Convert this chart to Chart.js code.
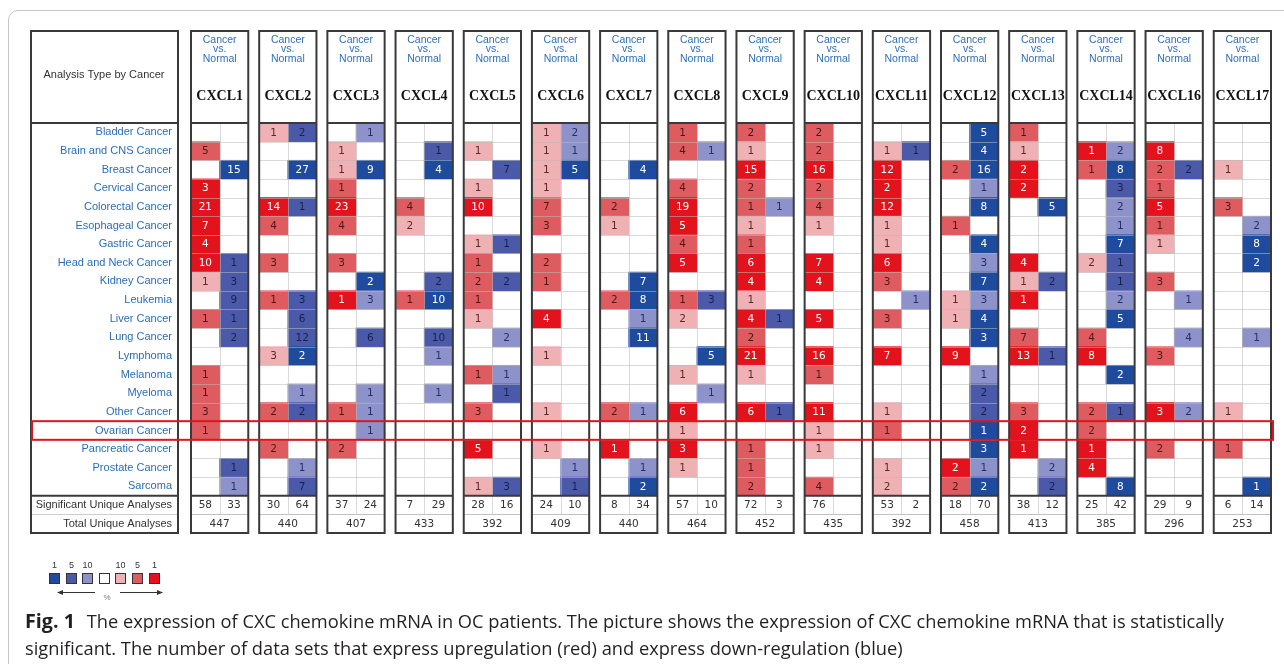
<!DOCTYPE html>
<html>
<head>
<meta charset="utf-8">
<title>CXC chemokine mRNA expression</title>
<script src="https://cdn.jsdelivr.net/npm/chart.js@4.4.1/dist/chart.umd.min.js"></script>
<style>
  html, body { margin: 0; padding: 0; width: 1284px; height: 664px; overflow: hidden; background: #fff; }
  #frame { position: absolute; left: 8px; top: 10px; width: 1330px; height: 700px; border: 1px solid #c6c6c6; border-radius: 10px; }
  #chart { position: absolute; left: 0; top: 0; }
  #caption { position: absolute; left: 25px; top: 607px; font-family: 'Open Sans', 'Liberation Sans', sans-serif;
             font-size: 16.5px; line-height: 27px; color: #231f20; white-space: nowrap; }
  #caption b { font-weight: 700; font-size: 1.08em; margin-right: 0.6em; }
</style>
</head>
<body>
<div id="frame"></div>
<canvas id="chart" width="1284" height="664"></canvas>
<div id="caption"><span id="line1"><b>Fig. 1</b>The expression of CXC chemokine mRNA in OC patients. The picture shows the expression of CXC chemokine mRNA that is statistically</span><br><span id="line2">significant. The number of data sets that express upregulation (red) and express down-regulation (blue)</span></div>

<script>
// Genes (columns) and cancer types (rows)
const genes = ['CXCL1', 'CXCL2', 'CXCL3', 'CXCL4', 'CXCL5', 'CXCL6', 'CXCL7', 'CXCL8',
               'CXCL9', 'CXCL10', 'CXCL11', 'CXCL12', 'CXCL13', 'CXCL14', 'CXCL16', 'CXCL17'];
const cancers = ['Bladder Cancer', 'Brain and CNS Cancer', 'Breast Cancer', 'Cervical Cancer',
                 'Colorectal Cancer', 'Esophageal Cancer', 'Gastric Cancer', 'Head and Neck Cancer',
                 'Kidney Cancer', 'Leukemia', 'Liver Cancer', 'Lung Cancer', 'Lymphoma', 'Melanoma',
                 'Myeloma', 'Other Cancer', 'Ovarian Cancer', 'Pancreatic Cancer', 'Prostate Cancer', 'Sarcoma'];
const footerLabels = ['Significant Unique Analyses', 'Total Unique Analyses'];
const highlightedCancer = 'Ovarian Cancer';

// Significant / total unique analyses per gene
const sigUp = [58, 30, 37, 7, 28, 24, 8, 57, 72, 76, 53, 18, 38, 25, 29, 6];
const sigDown = [33, 64, 24, 29, 16, 10, 34, 10, 3, null, 2, 70, 12, 42, 9, 14];
const totalAnalyses = [447, 440, 407, 433, 392, 409, 440, 464, 452, 435, 392, 458, 413, 385, 296, 253];

// Over-expression cells per gene: [cancer row, number of analyses, gene rank threshold %]
const upCells = [
  [[1,5,5],[3,3,1],[4,21,1],[5,7,1],[6,4,1],[7,10,1],[8,1,10],[10,1,5],[13,1,5],[14,1,5],[15,3,5],[16,1,5]],
  [[0,1,10],[4,14,1],[5,4,5],[7,3,5],[9,1,5],[12,3,10],[15,2,5],[17,2,5]],
  [[1,1,10],[2,1,10],[3,1,5],[4,23,1],[5,4,5],[7,3,5],[9,1,1],[15,1,5],[17,2,5]],
  [[4,4,5],[5,2,10],[9,1,5]],
  [[1,1,10],[3,1,10],[4,10,1],[6,1,10],[7,1,5],[8,2,5],[9,1,5],[10,1,10],[13,1,5],[15,3,5],[17,5,1],[19,1,10]],
  [[0,1,10],[1,1,10],[2,1,10],[3,1,10],[4,7,5],[5,3,5],[7,2,5],[8,1,5],[10,4,1],[12,1,10],[15,1,10],[17,1,10]],
  [[4,2,5],[5,1,10],[9,2,5],[15,2,5],[17,1,1]],
  [[0,1,5],[1,4,5],[3,4,5],[4,19,1],[5,5,1],[6,4,5],[7,5,1],[9,1,5],[10,2,10],[13,1,10],[15,6,1],[16,1,10],[17,3,1],[18,1,10]],
  [[0,2,5],[1,1,10],[2,15,1],[3,2,5],[4,1,5],[5,1,10],[6,1,5],[7,6,1],[8,4,1],[9,1,10],[10,4,1],[11,2,5],[12,21,1],[13,1,10],[15,6,1],[17,1,5],[18,1,5],[19,2,5]],
  [[0,2,5],[1,2,5],[2,16,1],[3,2,5],[4,4,5],[5,1,10],[7,7,1],[8,4,1],[10,5,1],[12,16,1],[13,1,5],[15,11,1],[16,1,10],[17,1,10],[19,4,5]],
  [[1,1,10],[2,12,1],[3,2,1],[4,12,1],[5,1,10],[6,1,10],[7,6,1],[8,3,5],[10,3,5],[12,7,1],[15,1,10],[16,1,5],[18,1,10],[19,2,10]],
  [[2,2,5],[5,1,5],[9,1,10],[10,1,10],[12,9,1],[18,2,1],[19,2,5]],
  [[0,1,5],[1,1,10],[2,2,1],[3,2,1],[7,4,1],[8,1,10],[9,1,1],[11,7,5],[12,13,1],[15,3,5],[16,2,1],[17,1,1]],
  [[1,1,1],[2,1,5],[7,2,10],[11,4,5],[12,8,1],[15,2,5],[16,2,5],[17,1,1],[18,4,1]],
  [[1,8,1],[2,2,5],[3,1,5],[4,5,1],[5,1,5],[6,1,10],[8,3,5],[12,3,5],[15,3,1],[17,2,5]],
  [[2,1,10],[4,3,5],[15,1,10],[17,1,5]]
];

// Under-expression cells per gene: [cancer row, number of analyses, gene rank threshold %]
const downCells = [
  [[2,15,1],[7,1,5],[8,3,5],[9,9,5],[10,1,5],[11,2,5],[18,1,5],[19,1,10]],
  [[0,2,5],[2,27,1],[4,1,5],[9,3,5],[10,6,5],[11,12,5],[12,2,1],[14,1,10],[15,2,5],[18,1,10],[19,7,5]],
  [[0,1,10],[2,9,1],[8,2,1],[9,3,10],[11,6,5],[14,1,10],[15,1,10],[16,1,10]],
  [[1,1,5],[2,4,1],[8,2,5],[9,10,1],[11,10,5],[12,1,10],[14,1,10]],
  [[2,7,5],[6,1,5],[8,2,5],[11,2,10],[13,1,10],[14,1,5],[19,3,5]],
  [[0,2,10],[1,1,10],[2,5,1],[18,1,10],[19,1,5]],
  [[2,4,1],[8,7,1],[9,8,1],[10,1,10],[11,11,1],[15,1,10],[18,1,10],[19,2,1]],
  [[1,1,10],[9,3,5],[12,5,1],[14,1,10]],
  [[4,1,10],[10,1,5],[15,1,5]],
  [],
  [[1,1,5],[9,1,10]],
  [[0,5,1],[1,4,1],[2,16,1],[3,1,10],[4,8,1],[6,4,1],[7,3,10],[8,7,1],[9,3,10],[10,4,1],[11,3,1],[13,1,10],[14,2,5],[15,2,5],[16,1,1],[17,3,1],[18,1,10],[19,2,1]],
  [[4,5,1],[8,2,5],[12,1,5],[18,2,10],[19,2,5]],
  [[1,2,10],[2,8,1],[3,3,5],[4,2,10],[5,1,10],[6,7,1],[7,1,5],[8,1,5],[9,2,10],[10,5,1],[13,2,1],[15,1,5],[19,8,1]],
  [[2,2,5],[9,1,10],[11,4,10],[15,2,10]],
  [[5,2,10],[6,8,1],[7,2,1],[11,1,10],[19,1,1]]
];

// Colour scale: top 1%, 5%, 10% gene rank
const rankColors = {
  up:   { 1: '#e3131d', 5: '#de5c60', 10: '#efb1b4' },
  down: { 1: '#1f4b9f', 5: '#4b5aa8', 10: '#8d93ca' }
};
const rankTextColors = {
  up:   { 1: '#ffffff', 5: '#4a1818', 10: '#5a2a2a' },
  down: { 1: '#ffffff', 5: '#17214f', 10: '#25306a' }
};

// Column geometry in x-scale units: one unit per gene, each gene box holds two cells
const BOX = 0.84;
const HALF = BOX / 2;
const rowLabels = cancers.concat(footerLabels);

function cellPoints(cells, side) {
  const points = [];
  cells.forEach((list, g) => {
    list.forEach(([row, count, rank]) => {
      const start = g + (side === 'up' ? 0 : HALF);
      points.push({ y: cancers[row], x: [start, start + HALF], count, rank, side });
    });
  });
  return points;
}

function line(ctx, x1, y1, x2, y2) {
  ctx.beginPath(); ctx.moveTo(x1, y1); ctx.lineTo(x2, y2); ctx.stroke();
}

const HEADER_H = 92;
const CELL_FONT = '10.5px "DejaVu Sans", sans-serif';

const tablePlugin = {
  id: 'oncomineTable',
  afterDatasetsDraw(chart) {
    const { ctx, chartArea: a, scales: { x, y } } = chart;
    const rowH = y.getPixelForValue(1) - y.getPixelForValue(0);
    const top = a.top;
    const dataBottom = top + cancers.length * rowH;
    const sigBottom = dataBottom + rowH;
    const headTop = top - HEADER_H;
    ctx.save();

    // light cell grid inside each gene box
    ctx.strokeStyle = 'rgba(185,185,185,0.55)';
    ctx.lineWidth = 1;
    genes.forEach((gene, g) => {
      const l = x.getPixelForValue(g), m = x.getPixelForValue(g + HALF), r = x.getPixelForValue(g + BOX);
      for (let k = 1; k < rowLabels.length; k++) {
        if (k === cancers.length) continue;
        const yy = Math.round(top + k * rowH) + 0.5;
        line(ctx, l, yy, r, yy);
      }
      line(ctx, Math.round(m) + 0.5, top, Math.round(m) + 0.5, sigBottom);
    });

    // counts inside the coloured cells
    ctx.font = CELL_FONT;
    ctx.textAlign = 'center';
    ctx.textBaseline = 'middle';
    chart.data.datasets.forEach((ds, di) => {
      const meta = chart.getDatasetMeta(di);
      meta.data.forEach((el, j) => {
        const p = ds.data[j];
        ctx.fillStyle = rankTextColors[p.side][p.rank];
        ctx.fillText(String(p.count), (el.x + el.base) / 2, el.y + 0.5);
      });
    });

    // label column box
    const labL = y.left, labR = y.right - 13;
    ctx.strokeStyle = 'rgba(185,185,185,0.7)';
    line(ctx, labL, Math.round(sigBottom) + 0.5, labR, Math.round(sigBottom) + 0.5);
    ctx.strokeStyle = '#3a3a3a';
    ctx.lineWidth = 2;
    ctx.strokeRect(labL + 1, headTop, labR - labL - 1, a.bottom - headTop);
    line(ctx, labL, top, labR, top);
    line(ctx, labL, dataBottom, labR, dataBottom);
    ctx.fillStyle = '#333';
    ctx.font = '11px "Liberation Sans", Arial, sans-serif';
    ctx.fillText('Analysis Type by Cancer', (labL + labR) / 2, headTop + 44);

    // gene boxes: outline, header texts and footer counts
    genes.forEach((gene, g) => {
      const l = x.getPixelForValue(g), m = x.getPixelForValue(g + HALF), r = x.getPixelForValue(g + BOX);
      const cx = (l + r) / 2;
      ctx.strokeStyle = 'rgba(185,185,185,0.7)';
      ctx.lineWidth = 1;
      line(ctx, l, Math.round(sigBottom) + 0.5, r, Math.round(sigBottom) + 0.5);
      ctx.strokeStyle = '#3a3a3a';
      ctx.lineWidth = 2;
      ctx.strokeRect(l, headTop, r - l, a.bottom - headTop);
      line(ctx, l, top, r, top);
      line(ctx, l, dataBottom, r, dataBottom);

      ctx.fillStyle = '#2f6fb8';
      ctx.font = '10.5px "Liberation Sans", Arial, sans-serif';
      ctx.fillText('Cancer', cx, headTop + 9);
      ctx.fillText('vs.', cx, headTop + 18);
      ctx.fillText('Normal', cx, headTop + 28);
      ctx.fillStyle = '#111';
      ctx.font = 'bold 14px "Liberation Serif", "Times New Roman", serif';
      ctx.fillText(gene, cx, headTop + 65);

      ctx.fillStyle = '#333';
      ctx.font = CELL_FONT;
      const ySig = y.getPixelForValue(cancers.length);
      const yTot = y.getPixelForValue(cancers.length + 1);
      if (sigUp[g] != null) ctx.fillText(String(sigUp[g]), (l + m) / 2, ySig + 0.5);
      if (sigDown[g] != null) ctx.fillText(String(sigDown[g]), (m + r) / 2, ySig + 0.5);
      ctx.fillText(String(totalAnalyses[g]), cx, yTot + 0.5);
    });

    // highlighted cancer row
    const hy = y.getPixelForValue(cancers.indexOf(highlightedCancer)) - rowH / 2;
    ctx.strokeStyle = '#e0141c';
    ctx.lineWidth = 2;
    ctx.strokeRect(labL + 2, hy, x.right + 2 - (labL + 2), rowH);

    // colour key
    const keys = [['down', 1], ['down', 5], ['down', 10], [null, 0], ['up', 10], ['up', 5], ['up', 1]];
    const kx = labL + 19, ky = a.bottom + 40;
    ctx.font = '9px "Liberation Sans", Arial, sans-serif';
    keys.forEach(([side, rank], i) => {
      const sx = Math.round(kx + i * 16.6);
      ctx.fillStyle = side ? rankColors[side][rank] : '#fff';
      ctx.fillRect(sx, ky, 11, 11);
      ctx.strokeStyle = '#333';
      ctx.lineWidth = 1;
      ctx.strokeRect(sx + 0.5, ky + 0.5, 10, 10);
      if (rank) { ctx.fillStyle = '#333'; ctx.fillText(String(rank), sx + 5.5, ky - 7); }
    });
    const ay = ky + 19.5;
    ctx.strokeStyle = '#333';
    ctx.fillStyle = '#333';
    line(ctx, kx + 9, ay, kx + 46, ay);
    line(ctx, kx + 71, ay, kx + 113, ay);
    [[kx + 8, -1], [kx + 114, 1]].forEach(([tip, dir]) => {
      ctx.beginPath();
      ctx.moveTo(tip, ay);
      ctx.lineTo(tip - dir * 6, ay - 2.5);
      ctx.lineTo(tip - dir * 6, ay + 2.5);
      ctx.closePath();
      ctx.fill();
    });
    ctx.fillStyle = '#777';
    ctx.font = '8px "Liberation Sans", Arial, sans-serif';
    ctx.fillText('%', kx + 58, ay + 5);

    ctx.restore();
  }
};

const cellDataset = (label, cells, side) => ({
  label,
  data: cellPoints(cells, side),
  backgroundColor: c => (c.raw ? rankColors[side][c.raw.rank] : rankColors[side][1]),
  borderWidth: 0,
  grouped: false,
  barPercentage: 1,
  categoryPercentage: 1
});

new Chart(document.getElementById('chart'), {
  type: 'bar',
  data: {
    labels: rowLabels,
    datasets: [
      cellDataset('Over-expression', upCells, 'up'),
      cellDataset('Under-expression', downCells, 'down')
    ]
  },
  options: {
    indexAxis: 'y',
    responsive: false,
    animation: false,
    devicePixelRatio: 1,
    layout: { padding: { left: 30, top: 123, right: 13, bottom: 131 } },
    plugins: { legend: { display: false }, tooltip: { enabled: false } },
    events: [],
    scales: {
      x: { type: 'linear', min: 0, max: genes.length - 1 + BOX, display: false },
      y: {
        type: 'category',
        offset: true,
        grid: { display: false, drawTicks: false },
        border: { display: false },
        ticks: {
          autoSkip: false,
          padding: 19,
          color: c => (c.index < cancers.length ? '#2b6db5' : '#333'),
          font: { family: '"Liberation Sans", Arial, sans-serif', size: 11 }
        },
        afterFit: s => { s.width = 161; }
      }
    }
  },
  plugins: [tablePlugin]
});

// Fit the caption's first line to the figure width
const caption = document.getElementById('caption');
const w1 = document.getElementById('line1').getBoundingClientRect().width;
caption.style.fontSize = (16.5 * 1199 / w1).toFixed(2) + 'px';
</script>
</body>
</html>
